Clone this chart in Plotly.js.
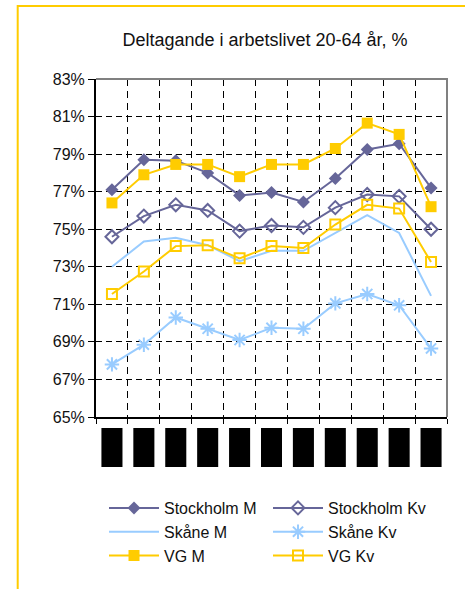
<!DOCTYPE html>
<html>
<head>
<meta charset="utf-8">
<script src="https://cdn.plot.ly/plotly-3.0.1.min.js"></script>
<style>
  html, body { margin: 0; padding: 0; background: #fff; overflow: hidden; }
  #chart { width: 465px; height: 589px; }
</style>
</head>
<body>
<div id="chart"></div>
<script>
// Categories (original labels are redacted in the reference)
const categories = ['K1', 'K2', 'K3', 'K4', 'K5', 'K6', 'K7', 'K8', 'K9', 'K10', 'K11'];

// Series values (%)
const stockholmM  = [77.1, 78.7, 78.65, 78.0, 76.8, 76.95, 76.45, 77.7, 79.25, 79.55, 77.2];
const stockholmKv = [74.6, 75.7, 76.3, 76.0, 74.9, 75.2, 75.1, 76.15, 76.85, 76.75, 75.0];
const skaneM      = [73.0, 74.35, 74.55, 74.15, 73.3, 73.85, 73.85, 74.8, 75.75, 74.8, 71.45];
const skaneKv     = [67.8, 68.85, 70.3, 69.7, 69.1, 69.75, 69.7, 71.05, 71.55, 70.95, 68.65];
const vgM         = [76.4, 77.9, 78.45, 78.45, 77.8, 78.45, 78.45, 79.3, 80.65, 80.05, 76.2];
const vgKv        = [71.55, 72.75, 74.1, 74.15, 73.45, 74.1, 74.0, 75.25, 76.3, 76.1, 73.25];

const seriesNames = ['Stockholm M', 'Stockholm Kv', 'Skåne M', 'Skåne Kv', 'VG M', 'VG Kv'];
const titleText = 'Deltagande i arbetslivet 20-64 år, %';

const FONT = 'Liberation Sans, Arial, sans-serif';
const purple = '#666699', blue = '#99CCFF', yellow = '#FFCC00';

function tr(name, y, color, marker) {
  const t = {
    type: 'scatter', mode: marker ? 'lines+markers' : 'lines',
    x: categories, y: y, name: name,
    line: { color: color, width: 2 }
  };
  if (marker) t.marker = marker;
  return t;
}

const data = [
  tr(seriesNames[0], stockholmM, purple, { symbol: 'diamond', size: 10, color: purple, line: { width: 0 } }),
  tr(seriesNames[1], stockholmKv, purple, { symbol: 'diamond-open', size: 10, color: purple, line: { width: 2, color: purple } }),
  tr(seriesNames[2], skaneM, blue, null),
  tr(seriesNames[3], skaneKv, blue, { symbol: 'asterisk-open', size: 12, color: blue, line: { width: 2, color: blue } }),
  tr(seriesNames[4], vgM, yellow, { symbol: 'square', size: 11, color: yellow, line: { width: 0 } }),
  tr(seriesNames[5], vgKv, yellow, { symbol: 'square-open', size: 10, color: yellow, line: { width: 2, color: yellow } })
];

// plot area geometry in pixels (for paper-referenced decorations)
const W = 465, H = 589, L = 96, R = 18, T = 79, B = 172;
const pw = W - L - R, ph = H - T - B;
const px2x = p => (p - L) / pw;
const py2y = p => (H - B - p) / ph;

const shapes = [
  // outer yellow frame (runs off the right and bottom edge)
  { type: 'rect', xref: 'paper', yref: 'paper', layer: 'below',
    x0: px2x(17.7), x1: px2x(W + 50), y0: py2y(H + 50), y1: py2y(6),
    line: { color: yellow, width: 2 }, fillcolor: 'rgba(0,0,0,0)' },
  // grey plot frame top/right
  { type: 'path', xref: 'paper', yref: 'paper', layer: 'above',
    path: 'M0,1 L1,1 L1,0', line: { color: '#808080', width: 2 } }
];
// redacted category labels: black boxes centred under each category
categories.forEach(function (c, i) {
  shapes.push({ type: 'rect', xref: 'x', yref: 'paper', layer: 'above',
    x0: i - 0.33, x1: i + 0.33, y0: py2y(467), y1: py2y(428),
    line: { width: 0 }, fillcolor: '#000' });
});

const layout = {
  width: W, height: H,
  margin: { l: L, r: R, t: T, b: B, autoexpand: false },
  paper_bgcolor: '#fff', plot_bgcolor: '#fff',
  font: { family: FONT, color: '#111', size: 14 },
  title: { text: titleText, font: { family: FONT, size: 18, color: '#111' },
           x: 265 / W, xanchor: 'center', y: 1 - 40 / H, yanchor: 'middle', xref: 'container', yref: 'container' },
  xaxis: {
    type: 'category', range: [-0.5, categories.length - 0.5],
    showticklabels: false, tickson: 'boundaries',
    ticks: 'outside', ticklen: 5, tickcolor: '#000', tickwidth: 1,
    showgrid: true, gridcolor: '#000', gridwidth: 1, griddash: '7px,5px',
    showline: true, linecolor: '#000', linewidth: 2, zeroline: false, fixedrange: true
  },
  yaxis: {
    range: [65, 83], dtick: 2, tick0: 65, ticksuffix: '%',
    ticks: 'outside', ticklen: 6, tickcolor: '#000', tickwidth: 1,
    tickfont: { family: FONT, size: 16, color: '#111' },
    showgrid: true, gridcolor: '#000', gridwidth: 1, griddash: '6px,4px',
    showline: true, linecolor: '#000', linewidth: 2, zeroline: false, fixedrange: true
  },
  showlegend: true,
  legend: {
    orientation: 'h', xref: 'container', yref: 'container',
    x: 104 / W, xanchor: 'left', y: 1 - 491 / H, yanchor: 'top',
    entrywidth: 99, entrywidthmode: 'pixels', itemwidth: 50,
    font: { family: FONT, size: 16, color: '#111' }, bgcolor: 'rgba(0,0,0,0)'
  },
  shapes: shapes
};

Plotly.newPlot('chart', data, layout, { displayModeBar: false, staticPlot: true });
</script>
</body>
</html>
